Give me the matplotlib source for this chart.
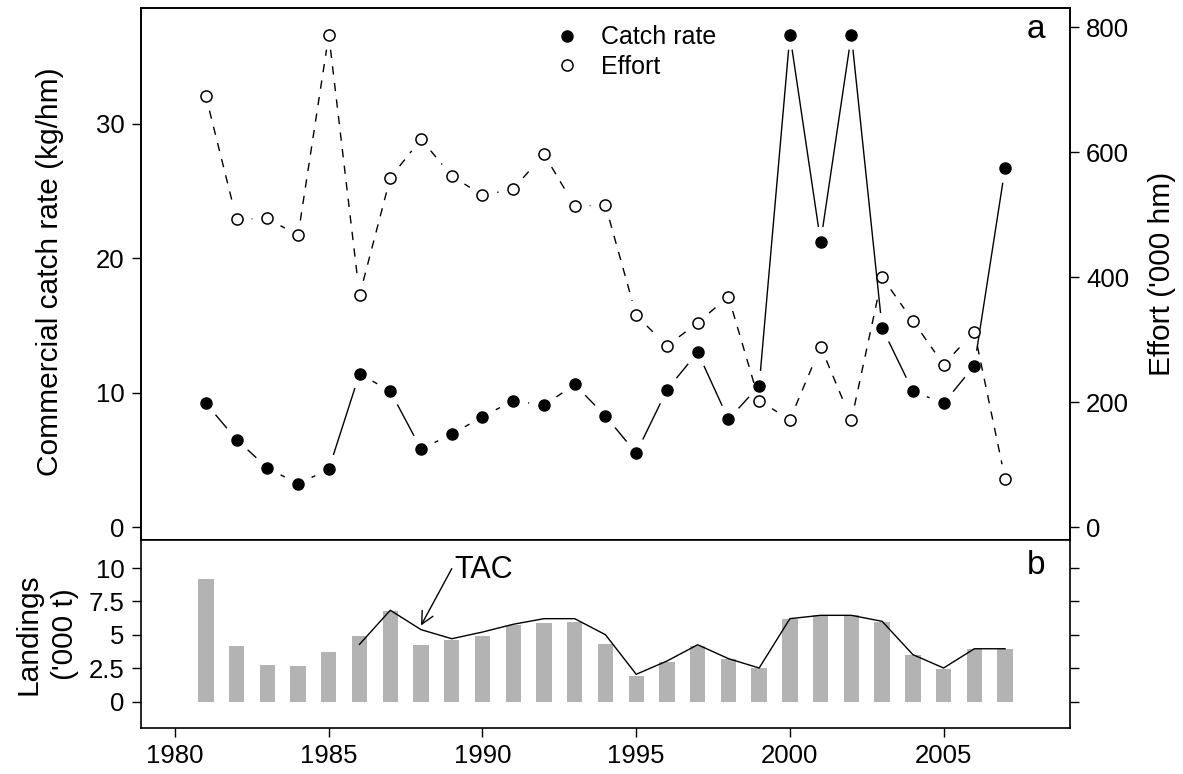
import numpy as np
import matplotlib.pyplot as plt
from matplotlib.collections import LineCollection
from matplotlib.lines import Line2D

plt.rcParams['font.family'] = ['Liberation Sans', 'DejaVu Sans']

years = np.arange(1981, 2008)
catch_rate = [9.2, 6.5, 4.4, 3.2, 4.3, 11.4, 10.1, 5.8, 6.9, 8.2, 9.4, 9.05, 10.6, 8.25,
              5.5, 10.2, 13.0, 8.0, 10.5, 36.6, 21.2, 36.6, 14.8, 10.1, 9.2, 12.0, 26.7]
effort = [690, 493, 494, 467, 788, 371, 559, 621, 562, 531, 541, 597, 514, 515,
          339, 290, 327, 369, 202, 172, 289, 171, 400, 330, 260, 313, 77]
landings = [9.15, 4.14, 2.77, 2.69, 3.72, 4.89, 6.76, 4.22, 4.64, 4.94, 5.76, 5.89, 5.98, 4.34,
            1.9, 2.97, 4.14, 3.17, 2.52, 6.16, 6.51, 6.46, 5.96, 3.52, 2.47, 3.96, 3.96]
tac_years = np.arange(1986, 2008)
tac = [4.29, 6.84, 5.39, 4.71, 5.21, 5.79, 6.21, 6.21, 5.01, 2.05, 3.04, 4.26, 3.22, 2.52,
       6.21, 6.46, 6.46, 6.01, 3.52, 2.52, 3.96, 3.96]


def gapped_line(ax, x, y, gap=15, **kw):
    # lines broken around each point, like R's type="b"
    pts = ax.transData.transform(np.column_stack([x, y]))
    inv = ax.transData.inverted()
    segs = []
    for p0, p1 in zip(pts[:-1], pts[1:]):
        d = p1 - p0
        L = np.hypot(*d)
        if L <= 2 * gap:
            continue
        u = d / L
        segs.append(inv.transform(np.array([p0 + u * gap, p1 - u * gap])))
    ax.add_collection(LineCollection(segs, **kw))


fig = plt.figure(figsize=(11.83, 7.74), dpi=100)
ax1 = fig.add_axes([0.1189, 0.3019, 0.7858, 0.6874])
ax2 = ax1.twinx()
ax3 = fig.add_axes([0.1189, 0.0594, 0.7858, 0.2425])

xlim = (1978.88, 2009.12)
ax1.set_xlim(*xlim)
ax1.set_ylim(-0.99, 38.57)
ax2.set_ylim(-21.3, 830.5)
ax3.set_xlim(*xlim)
ax3.set_ylim(-1.97, 12.07)

# panel a: catch rate and effort
gapped_line(ax1, years, catch_rate, color='k', linewidth=1.0)
gapped_line(ax2, years, effort, color='k', linewidth=1.0, linestyle=(0, (6, 6)))
ax1.plot(years, catch_rate, 'o', color='k', ms=8, zorder=3)
ax2.plot(years, effort, 'o', mfc='white', mec='k', ms=8, mew=1.1, zorder=3)

handles = [Line2D([], [], marker='o', ls='', color='k', ms=8),
           Line2D([], [], marker='o', ls='', mfc='white', mec='k', ms=8, mew=1.1)]
ax2.legend(handles, ['Catch rate', 'Effort'], loc='upper left', bbox_to_anchor=(0.445, 0.968),
           frameon=False, fontsize=18, handlelength=1.0, handletextpad=0.85,
           labelspacing=0.22, borderpad=0, borderaxespad=0)

ax1.set_yticks([0, 10, 20, 30])
ax2.set_yticks([0, 200, 400, 600, 800])
ax1.tick_params(axis='x', bottom=False, labelbottom=False)
ax1.set_ylabel('Commercial catch rate (kg/hm)', fontsize=21.5, va='center')
ax1.yaxis.set_label_coords(-0.0976, 0.504)
ax2.set_ylabel("Effort ('000 hm)", fontsize=21.5, rotation=90, va='center')
ax2.yaxis.set_label_coords(1.0987, 0.5)
ax1.text(2008, 36.33, 'a', fontsize=24, ha='center', va='baseline')

# panel b: landings and TAC
ax3.bar(years, landings, width=0.5, color='#b3b3b3')
ax3.plot(tac_years, tac, color='k', linewidth=1.0)
ax3.annotate('', xy=(1988.0, 5.7), xytext=(1989.0, 9.95),
             arrowprops=dict(arrowstyle='->', color='k', lw=1.0, mutation_scale=22,
                             shrinkA=0, shrinkB=0))
ax3.text(1989.09, 9.87, 'TAC', fontsize=22, ha='left', va='center')
ax3.text(2008, 9.57, 'b', fontsize=24, ha='center', va='baseline')

ax3.set_xticks([1980, 1985, 1990, 1995, 2000, 2005])
ax3.set_yticks([0, 2.5, 5, 7.5, 10])
ax3.set_yticklabels(['0', '2.5', '5', '7.5', '10'])
ax3.tick_params(axis='y', right=True)
ax3.set_ylabel("Landings\n('000 t)", fontsize=21.5, va='center', linespacing=1.4)
ax3.yaxis.set_label_coords(-0.1008, 0.5)

for ax in (ax1, ax2, ax3):
    ax.tick_params(direction='out', length=6.5, width=1.0, labelsize=18.5, pad=5)
    for s in ax.spines.values():
        s.set_linewidth(1.2)

fig.savefig('out.png', dpi=100)
